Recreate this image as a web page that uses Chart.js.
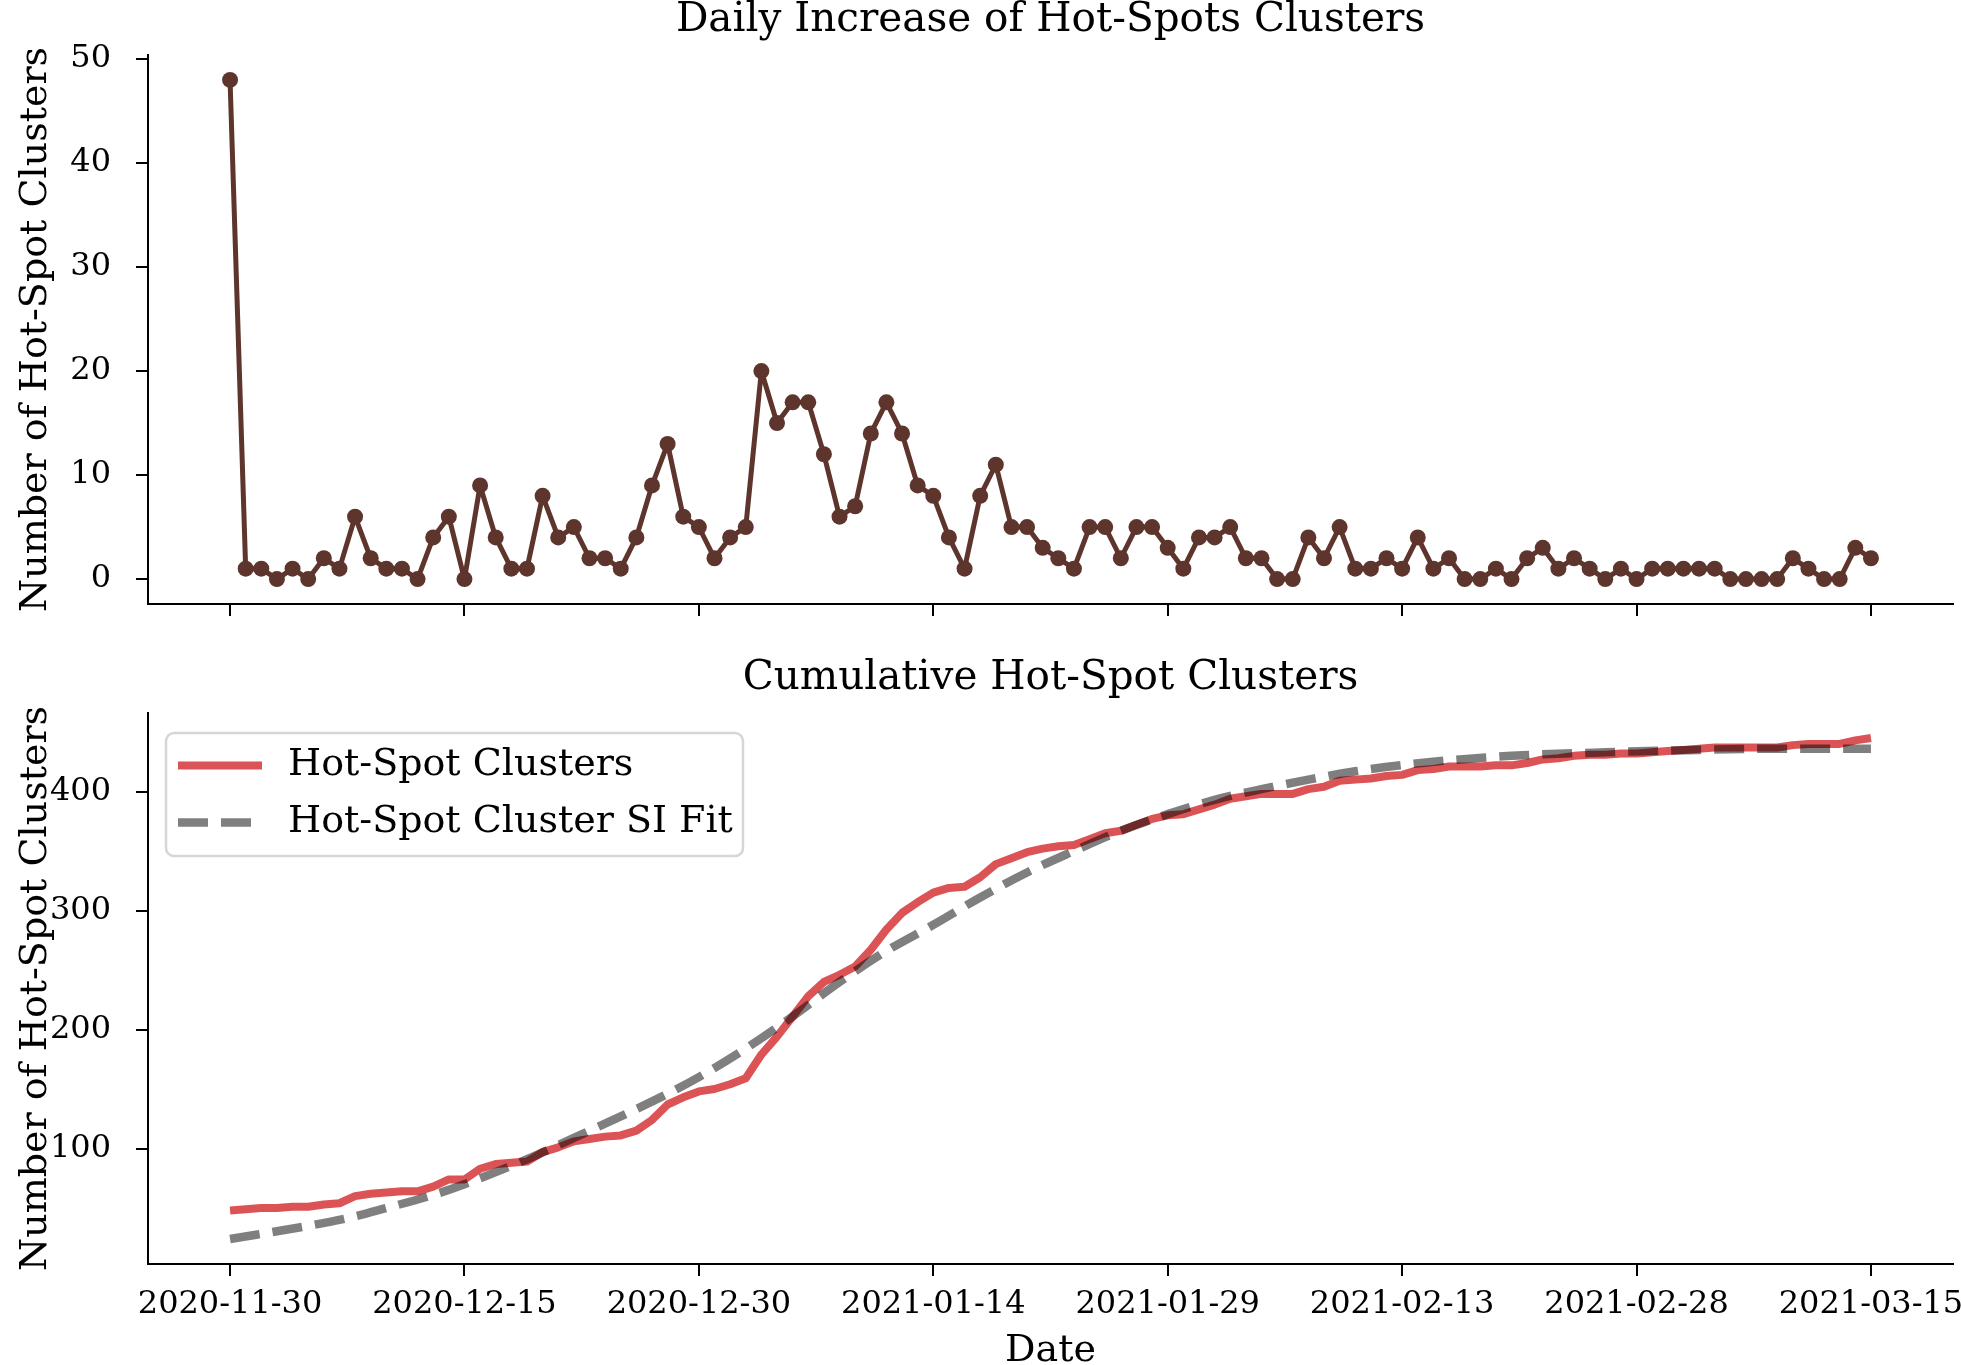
<!DOCTYPE html>
<html>
<head>
<meta charset="utf-8">
<script src="https://cdn.jsdelivr.net/npm/chart.js@4.4.1/dist/chart.umd.min.js"></script>
<style>
  html, body { margin: 0; padding: 0; background: #fff; }
  #wrap { position: relative; width: 1961px; height: 1365px; }
  .panel { position: absolute; left: 0; width: 1961px; }
  #top { top: 0; height: 640px; }
  #bottom { top: 640px; height: 725px; }
</style>
</head>
<body>
<div id="wrap">
  <div class="panel" id="top"><canvas id="dailyChart"></canvas></div>
  <div class="panel" id="bottom"><canvas id="cumulativeChart"></canvas></div>
</div>
<script>
// days since 2020-11-30
const tickDays = [0, 15, 30, 45, 60, 75, 90, 105];
const tickLabels = ["2020-11-30", "2020-12-15", "2020-12-30", "2021-01-14",
  "2021-01-29", "2021-02-13", "2021-02-28", "2021-03-15"];
const dailyTicks = [0, 10, 20, 30, 40, 50];
const cumulativeTicks = [100, 200, 300, 400];

const dailyIncrease = [
  48, 1, 1, 0, 1, 0, 2, 1, 6, 2,
  1, 1, 0, 4, 6, 0, 9, 4, 1, 1,
  8, 4, 5, 2, 2, 1, 4, 9, 13, 6,
  5, 2, 4, 5, 20, 15, 17, 17, 12, 6,
  7, 14, 17, 14, 9, 8, 4, 1, 8, 11,
  5, 5, 3, 2, 1, 5, 5, 2, 5, 5,
  3, 1, 4, 4, 5, 2, 2, 0, 0, 4,
  2, 5, 1, 1, 2, 1, 4, 1, 2, 0,
  0, 1, 0, 2, 3, 1, 2, 1, 0, 1,
  0, 1, 1, 1, 1, 1, 0, 0, 0, 0,
  2, 1, 0, 0, 3, 2
];

const cumulativeClusters = [
  48, 49, 50, 50, 51, 51, 53, 54, 60, 62,
  63, 64, 64, 68, 74, 74, 83, 87, 88, 89,
  97, 101, 106, 108, 110, 111, 115, 124, 137, 143,
  148, 150, 154, 159, 179, 194, 211, 228, 240, 246,
  253, 267, 284, 298, 307, 315, 319, 320, 328, 339,
  344, 349, 352, 354, 355, 360, 365, 367, 372, 377,
  380, 381, 385, 389, 394, 396, 398, 398, 398, 402,
  404, 409, 410, 411, 413, 414, 418, 419, 421, 421,
  421, 422, 422, 424, 427, 428, 430, 431, 431, 432,
  432, 433, 434, 435, 436, 437, 437, 437, 437, 437,
  439, 440, 440, 440, 443, 445
];

// SI fit
const fitDays = [0, 5, 8, 10, 13, 15, 19, 22, 25, 28, 30, 33, 36, 39, 42, 45,
  48, 51, 54, 57, 60, 63, 66, 69, 72, 77, 82, 88, 94, 99, 105];
const fitValues = [24, 35, 43, 50, 61, 70, 91, 109, 127, 146, 160, 184, 211, 240, 266, 288,
  311, 332, 350, 367, 381, 393, 402, 410, 417, 425, 430, 433, 435, 436, 436];

const font = "'DejaVu Serif', serif";
Chart.defaults.font.family = font;
Chart.defaults.color = "#000";

// title centred over the plot area, like matplotlib's ax.set_title
const panelTitle = {
  id: "panelTitle",
  afterDraw(chart, args, opts) {
    const { ctx, chartArea } = chart;
    ctx.save();
    ctx.font = "40.5px " + font;
    ctx.fillStyle = "#000";
    ctx.textAlign = "center";
    ctx.textBaseline = "middle";
    ctx.fillText(opts.text, (chartArea.left + chartArea.right) / 2, chartArea.top - 35);
    ctx.restore();
  },
};

function xScale(showLabels, height, title) {
  return {
    type: "linear",
    min: -5.25,
    max: 110.25,
    afterBuildTicks: (s) => { s.ticks = tickDays.map((v) => ({ value: v })); },
    afterFit: (s) => { s.height = height; s.paddingLeft = 0; s.paddingRight = 0; },
    grid: { drawOnChartArea: false, drawTicks: true, tickLength: 12, color: "#000", lineWidth: 2 },
    border: { display: true, color: "#000", width: 2 },
    ticks: {
      display: showLabels,
      autoSkip: false,
      maxRotation: 0,
      padding: 9,
      font: { size: 32 },
      callback: (v) => tickLabels[tickDays.indexOf(v)],
    },
    title: {
      display: !!title,
      text: title || "",
      font: { size: 38, lineHeight: 1 },
      padding: { top: 0, bottom: -5.5 },
    },
  };
}

function yScale(min, max, ticks) {
  return {
    min: min,
    max: max,
    afterBuildTicks: (s) => { s.ticks = ticks.map((v) => ({ value: v })); },
    afterFit: (s) => { s.width = 148; s.paddingTop = 0; s.paddingBottom = 0; },
    grid: { drawOnChartArea: false, drawTicks: true, tickLength: 12, color: "#000", lineWidth: 2 },
    border: { display: true, color: "#000", width: 2 },
    ticks: { padding: 25, font: { size: 32 } },
    title: {
      display: true,
      text: "Number of Hot-Spot Clusters",
      font: { size: 38, lineHeight: 1 },
      padding: { top: 17, bottom: 0 },
    },
  };
}

new Chart(document.getElementById("dailyChart"), {
  type: "line",
  data: {
    datasets: [
      {
        label: "Daily Increase",
        data: dailyIncrease.map((v, i) => ({ x: i, y: v })),
        borderColor: "#5e352d",
        backgroundColor: "#5e352d",
        borderWidth: 5,
        borderJoinStyle: "round",
        pointRadius: 8,
        pointBorderWidth: 0,
        pointBackgroundColor: "#5e352d",
        tension: 0,
      },
    ],
  },
  options: {
    responsive: true,
    maintainAspectRatio: false,
    animation: false,
    devicePixelRatio: 1,
    layout: { padding: { left: 0, right: 8, top: 55, bottom: 0 } },
    plugins: {
      legend: { display: false },
      tooltip: { enabled: false },
      panelTitle: { text: "Daily Increase of Hot-Spots Clusters" },
    },
    scales: {
      x: xScale(false, 36, null),
      y: yScale(-2.4, 50.4, dailyTicks),
    },
  },
  plugins: [panelTitle],
});

const legendBox = {
  id: "legendBox",
  afterDatasetsDraw(chart) {
    const { ctx, chartArea } = chart;
    const x = chartArea.left + 18;
    const y = chartArea.top + 20;
    const w = 577;
    const h = 123;
    ctx.save();
    ctx.fillStyle = "rgba(255,255,255,0.8)";
    ctx.strokeStyle = "#d6d6d6";
    ctx.lineWidth = 2.5;
    ctx.beginPath();
    ctx.roundRect(x, y, w, h, 8);
    ctx.fill();
    ctx.stroke();
    ctx.font = "38px " + font;
    ctx.textBaseline = "middle";
    const items = [chart.data.datasets[1], chart.data.datasets[0]];
    items.forEach((ds, i) => {
      const rowY = y + 32.5 + i * 57;
      ctx.strokeStyle = ds.borderColor;
      ctx.lineWidth = ds.borderWidth;
      ctx.lineCap = "butt";
      ctx.setLineDash(ds.borderDash || []);
      ctx.beginPath();
      ctx.moveTo(x + 12, rowY);
      ctx.lineTo(x + 96, rowY);
      ctx.stroke();
      ctx.setLineDash([]);
      ctx.fillStyle = "#000";
      ctx.fillText(ds.label, x + 122, rowY);
    });
    ctx.restore();
  },
};

new Chart(document.getElementById("cumulativeChart"), {
  type: "line",
  data: {
    datasets: [
      {
        label: "Hot-Spot Cluster SI Fit",
        data: fitDays.map((d, i) => ({ x: d, y: fitValues[i] })),
        borderColor: "rgba(0,0,0,0.5)",
        borderWidth: 8.5,
        borderDash: [30, 13],
        borderCapStyle: "butt",
        pointRadius: 0,
        cubicInterpolationMode: "monotone",
        order: 1,
      },
      {
        label: "Hot-Spot Clusters",
        data: cumulativeClusters.map((v, i) => ({ x: i, y: v })),
        borderColor: "#dc5356",
        borderWidth: 8,
        borderJoinStyle: "round",
        pointRadius: 0,
        tension: 0,
        order: 2,
      },
    ],
  },
  options: {
    responsive: true,
    maintainAspectRatio: false,
    animation: false,
    devicePixelRatio: 1,
    layout: { padding: { left: 0, right: 8, top: 73, bottom: 0 } },
    plugins: {
      legend: { display: false },
      tooltip: { enabled: false },
      panelTitle: { text: "Cumulative Hot-Spot Clusters" },
    },
    scales: {
      x: xScale(true, 101, "Date"),
      y: yScale(2.95, 466, cumulativeTicks),
    },
  },
  plugins: [panelTitle, legendBox],
});
</script>
</body>
</html>
